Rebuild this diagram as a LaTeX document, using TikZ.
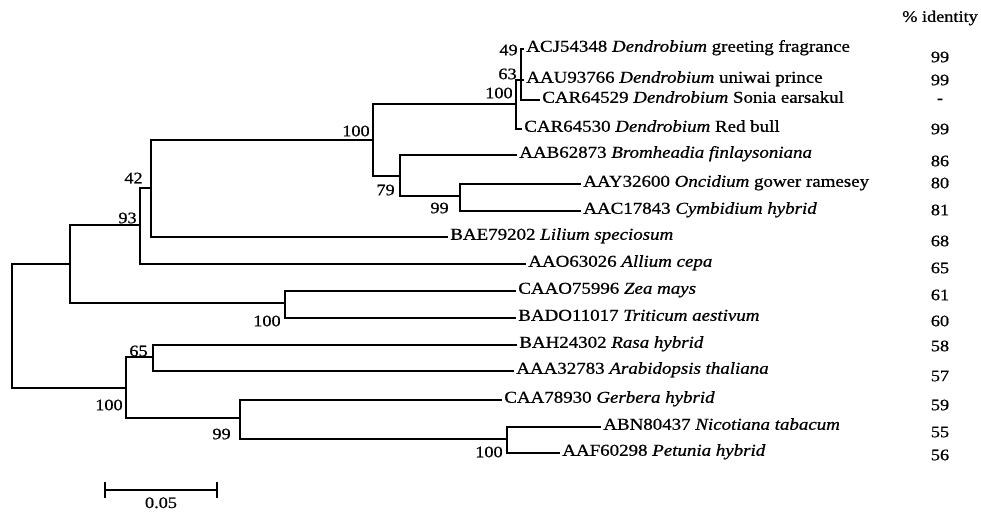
\documentclass[tikz,border=0pt]{standalone}
\usepackage{fontspec}
\setmainfont{Liberation Serif}[FakeStretch=1.14, FakeBold=0.8]
\usetikzlibrary{positioning, calc}
\tikzset{
  every picture/.style={x=1pt, y=-1pt, line width=2.7pt},
  leaf/.style={anchor=west, inner sep=1pt, font=\fontsize{16.6}{18}\selectfont, text height=0.55em, text depth=0pt},
  boot/.style={anchor=east, inner sep=0pt, font=\fontsize{16}{17}\selectfont},
  pct/.style={inner sep=0pt, font=\fontsize{16}{17}\selectfont},
  branch/.style={draw=black, line width=2.7pt},
}

\begin{document}
\begin{tikzpicture}
  \useasboundingbox (0,0) rectangle (981,514);
  % ---- internal nodes of the tree
  \coordinate (root) at (12,326);
  \coordinate (nG) at (70,264);
  \coordinate (nE) at (140,225);
  \coordinate (nD) at (151,188);
  \coordinate (nA) at (373,140);
  \coordinate (nB) at (400,176);
  \coordinate (nC) at (460,196);
  \coordinate (nDb) at (516,104);
  \coordinate (nDa) at (521,80);
  \coordinate (nF) at (285,303);
  \coordinate (nH) at (126,388);
  \coordinate (nI) at (153,357);
  \coordinate (nJ) at (240,418);
  \coordinate (nK) at (507,439);
  % ---- leaves
  \node[leaf] (l1) at (524,49) {ACJ54348 \textit{Dendrobium} greeting fragrance};
  \node[leaf] (l2) at (524,80) {AAU93766 \textit{Dendrobium} uniwai prince};
  \node[leaf] (l3) at (540,100) {CAR64529 \textit{Dendrobium} Sonia earsakul};
  \node[leaf] (l4) at (522,129) {CAR64530 \textit{Dendrobium} Red bull};
  \node[leaf] (l5) at (517,155) {AAB62873 \textit{Bromheadia finlaysoniana}};
  \node[leaf] (l6) at (581,184) {AAY32600 \textit{Oncidium} gower ramesey};
  \node[leaf] (l7) at (581,211) {AAC17843 \textit{Cymbidium hybrid}};
  \node[leaf] (l8) at (448,237) {BAE79202 \textit{Lilium speciosum}};
  \node[leaf] (l9) at (526,264) {AAO63026 \textit{Allium cepa}};
  \node[leaf] (l10) at (516,291) {CAAO75996 \textit{Zea mays}};
  \node[leaf] (l11) at (516,318) {BADO11017 \textit{Triticum aestivum}};
  \node[leaf] (l12) at (517,345) {BAH24302 \textit{Rasa hybrid}};
  \node[leaf] (l13) at (514,371) {AAA32783 \textit{Arabidopsis thaliana}};
  \node[leaf] (l14) at (502,400) {CAA78930 \textit{Gerbera hybrid}};
  \node[leaf] (l15) at (601,427) {ABN80437 \textit{Nicotiana tabacum}};
  \node[leaf] (l16) at (560,453) {AAF60298 \textit{Petunia hybrid}};
  % ---- branches
  \draw[branch] (root) |- (nG);
  \draw[branch] (root) |- (nH);
  \draw[branch] (nG) |- (nE);
  \draw[branch] (nG) |- (nF);
  \draw[branch] (nE) |- (nD);
  \draw[branch] (nE) |- (l9.west);
  \draw[branch] (nD) |- (nA);
  \draw[branch] (nD) |- (l8.west);
  \draw[branch] (nA) |- (nDb);
  \draw[branch] (nA) |- (nB);
  \draw[branch] (nDb) |- (nDa);
  \draw[branch] (nDb) |- (l4.west);
  \draw[branch] (nDa) |- (l1.west);
  \draw[branch] (nDa) |- (l2.west);
  \draw[branch] (nDa) |- (l3.west);
  \draw[branch] (nB) |- (l5.west);
  \draw[branch] (nB) |- (nC);
  \draw[branch] (nC) |- (l6.west);
  \draw[branch] (nC) |- (l7.west);
  \draw[branch] (nF) |- (l10.west);
  \draw[branch] (nF) |- (l11.west);
  \draw[branch] (nH) |- (nI);
  \draw[branch] (nH) |- (nJ);
  \draw[branch] (nI) |- (l12.west);
  \draw[branch] (nI) |- (l13.west);
  \draw[branch] (nJ) |- (l14.west);
  \draw[branch] (nJ) |- (nK);
  \draw[branch] (nK) |- (l15.west);
  \draw[branch] (nK) |- (l16.west);
  % ---- bootstrap values
  \node[boot] (b49) at (519,50) {49};
  \node[boot] (b63) at (518,74) {63};
  \node[boot] (b100d) at (514,93) {100};
  \node[boot] (b100a) at (371,131) {100};
  \node[boot] (b79) at (396,190) {79};
  \node[boot] (b99c) at (450,208) {99};
  \node[boot] (b42) at (144,178) {42};
  \node[boot] (b93) at (138,218) {93};
  \node[boot] (b100f) at (282,321) {100};
  \node[boot] (b65) at (149,351) {65};
  \node[boot] (b100h) at (124,405) {100};
  \node[boot] (b99j) at (232,434) {99};
  \node[boot] (b100k) at (504,452) {100};
  % ---- identity column
  \node[pct] (head) at (940,18) {\% identity};
  \foreach \v/\yy [count=\i] in {99/57, 99/80, -/101, 99/129, 86/161, 80/183, 81/210, 68/241,
      65/268, 61/295, 60/321, 58/346, 57/376, 59/405, 55/432, 56/455}
    \node[pct] (p\i) at (940,\yy) {\v};
  % ---- scale bar
  \coordinate (sbl) at (105,490);
  \coordinate (sbr) at (217,490);
  \draw[branch] (sbl) -- (sbr);
  \draw[branch] ([yshift=-8]sbl) -- ([yshift=8]sbl);
  \draw[branch] ([yshift=-8]sbr) -- ([yshift=8]sbr);
  \node[pct, below=6pt of $(sbl)!0.5!(sbr)$] (sblab) {0.05};
\end{tikzpicture}
\end{document}
